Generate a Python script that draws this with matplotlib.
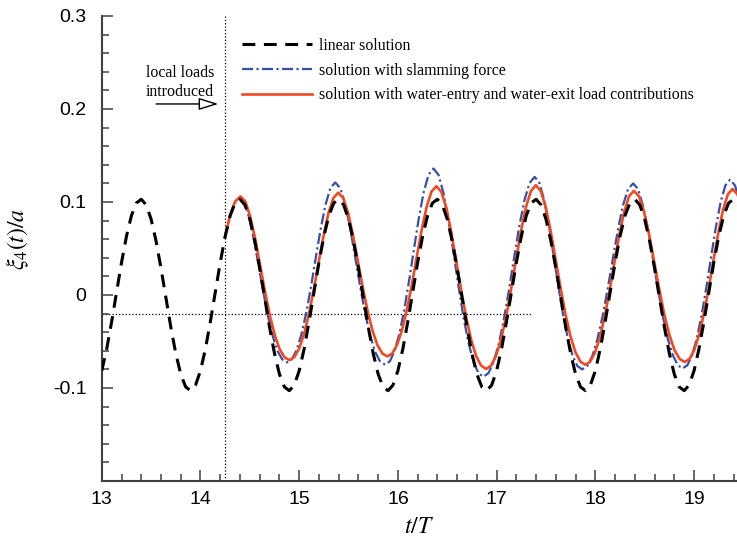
import numpy as np
import matplotlib
matplotlib.use('Agg')
import matplotlib.pyplot as plt
from matplotlib.ticker import FixedLocator, MultipleLocator

plt.rcParams['font.family'] = 'Liberation Sans'
plt.rcParams['mathtext.fontset'] = 'stix'
plt.rcParams['axes.unicode_minus'] = False

# roll response xi_4/a versus t/T
t_load = 14.25          # local loads switched on here
mean_level = -0.02      # dotted reference level
mean_level_end = 17.35

# linear solution, sampled every 0.05 T
lin_t = np.linspace(13.0, 19.45, 130)
lin_xi = [
    -0.0814, -0.0579, -0.0287, 0.0032, 0.0349, 0.0631, 0.0852, 0.0989, 0.1029, 0.0969,
    0.0814, 0.0579, 0.0287, -0.0032, -0.0349, -0.0631, -0.0852, -0.0989, -0.1029, -0.0969,
    -0.0814, -0.0579, -0.0287, 0.0032, 0.0349, 0.0631, 0.0852, 0.0989, 0.1029, 0.0969,
    0.0814, 0.0579, 0.0287, -0.0032, -0.0349, -0.0631, -0.0852, -0.0989, -0.1029, -0.0969,
    -0.0814, -0.0579, -0.0287, 0.0032, 0.0349, 0.0631, 0.0852, 0.0989, 0.1029, 0.0969,
    0.0814, 0.0579, 0.0287, -0.0032, -0.0349, -0.0631, -0.0852, -0.0989, -0.1029, -0.0969,
    -0.0814, -0.0579, -0.0287, 0.0032, 0.0349, 0.0631, 0.0852, 0.0989, 0.1029, 0.0969,
    0.0814, 0.0579, 0.0287, -0.0032, -0.0349, -0.0631, -0.0852, -0.0989, -0.1029, -0.0969,
    -0.0814, -0.0579, -0.0287, 0.0032, 0.0349, 0.0631, 0.0852, 0.0989, 0.1029, 0.0969,
    0.0814, 0.0579, 0.0287, -0.0032, -0.0349, -0.0631, -0.0852, -0.0989, -0.1029, -0.0969,
    -0.0814, -0.0579, -0.0287, 0.0032, 0.0349, 0.0631, 0.0852, 0.0989, 0.1029, 0.0969,
    0.0814, 0.0579, 0.0287, -0.0032, -0.0349, -0.0631, -0.0852, -0.0989, -0.1029, -0.0969,
    -0.0814, -0.0579, -0.0287, 0.0032, 0.0349, 0.0631, 0.0852, 0.0989, 0.1029, 0.0969,
]

# solution with slamming force
slam_t = [
    14.25, 14.30, 14.35, 14.400,
    14.448, 14.496, 14.543, 14.591, 14.639, 14.687, 14.735, 14.782, 14.830, 14.878,
    14.927, 14.975, 15.024, 15.073, 15.122, 15.170, 15.219, 15.268, 15.316, 15.365,
    15.416, 15.466, 15.517, 15.567, 15.618, 15.668, 15.719, 15.769, 15.820, 15.870,
    15.919, 15.968, 16.017, 16.066, 16.115, 16.164, 16.213, 16.262, 16.311, 16.360,
    16.411, 16.461, 16.512, 16.562, 16.613, 16.663, 16.714, 16.764, 16.815, 16.865,
    16.917, 16.969, 17.021, 17.073, 17.125, 17.177, 17.229, 17.281, 17.333, 17.385,
    17.433, 17.481, 17.529, 17.577, 17.625, 17.673, 17.721, 17.769, 17.817, 17.865,
    17.917, 17.969, 18.020, 18.072, 18.124, 18.176, 18.228, 18.279, 18.331, 18.383,
    18.433, 18.483, 18.534, 18.584, 18.634, 18.684, 18.734, 18.785, 18.835, 18.885,
    18.933, 18.981, 19.029, 19.077, 19.125, 19.173, 19.221, 19.269, 19.317, 19.365,
    19.415, 19.465,
]
slam_xi = [
    0.0630, 0.0855, 0.0995, 0.1040,
    0.0983, 0.0823, 0.0585, 0.0304, 0.0018, -0.0242, -0.0453, -0.0605, -0.0695, -0.0725,
    -0.0691, -0.0589, -0.0418, -0.0183, 0.0103, 0.0415, 0.0720, 0.0977, 0.1149, 0.1210,
    0.1149, 0.0974, 0.0714, 0.0406, 0.0090, -0.0199, -0.0438, -0.0611, -0.0716, -0.0750,
    -0.0712, -0.0597, -0.0407, -0.0148, 0.0165, 0.0504, 0.0834, 0.1110, 0.1295, 0.1360,
    0.1292, 0.1098, 0.0807, 0.0460, 0.0100, -0.0233, -0.0510, -0.0715, -0.0839, -0.0880,
    -0.0840, -0.0723, -0.0529, -0.0264, 0.0055, 0.0401, 0.0735, 0.1016, 0.1204, 0.1270,
    0.1206, 0.1024, 0.0752, 0.0428, 0.0095, -0.0211, -0.0465, -0.0651, -0.0763, -0.0800,
    -0.0765, -0.0657, -0.0479, -0.0236, 0.0060, 0.0382, 0.0696, 0.0961, 0.1138, 0.1200,
    0.1138, 0.0957, 0.0698, 0.0386, 0.0065, -0.0229, -0.0472, -0.0648, -0.0755, -0.0790,
    -0.0754, -0.0645, -0.0463, -0.0215, 0.0085, 0.0412, 0.0730, 0.0998, 0.1178, 0.1240,
    0.1177, 0.0997,
]

# solution with water-entry and water-exit loads
ee_t = [
    14.25, 14.30, 14.35, 14.405,
    14.455, 14.504, 14.554, 14.603, 14.653, 14.702, 14.752, 14.801, 14.851, 14.900,
    14.950, 14.999, 15.049, 15.098, 15.148, 15.197, 15.247, 15.296, 15.346, 15.395,
    15.445, 15.495, 15.544, 15.594, 15.644, 15.694, 15.744, 15.793, 15.843, 15.893,
    15.943, 15.992, 16.042, 16.092, 16.142, 16.191, 16.241, 16.291, 16.340, 16.390,
    16.440, 16.491, 16.541, 16.591, 16.642, 16.692, 16.742, 16.792, 16.843, 16.893,
    16.943, 16.994, 17.044, 17.095, 17.145, 17.195, 17.246, 17.296, 17.347, 17.397,
    17.447, 17.497, 17.547, 17.597, 17.648, 17.698, 17.748, 17.798, 17.848, 17.898,
    17.947, 17.996, 18.046, 18.095, 18.144, 18.193, 18.242, 18.292, 18.341, 18.390,
    18.442, 18.493, 18.545, 18.596, 18.648, 18.699, 18.751, 18.802, 18.854, 18.905,
    18.954, 19.002, 19.051, 19.099, 19.148, 19.196, 19.245, 19.293, 19.342, 19.390,
    19.440, 19.490,
]
ee_xi = [
    0.0630, 0.0860, 0.1005, 0.1060,
    0.1004, 0.0844, 0.0606, 0.0325, 0.0040, -0.0219, -0.0429, -0.0580, -0.0670, -0.0700,
    -0.0669, -0.0577, -0.0421, -0.0205, 0.0060, 0.0352, 0.0637, 0.0880, 0.1043, 0.1100,
    0.1044, 0.0884, 0.0646, 0.0365, 0.0080, -0.0179, -0.0389, -0.0540, -0.0630, -0.0660,
    -0.0629, -0.0534, -0.0374, -0.0154, 0.0115, 0.0411, 0.0701, 0.0947, 0.1112, 0.1170,
    0.1109, 0.0934, 0.0673, 0.0365, 0.0048, -0.0243, -0.0482, -0.0656, -0.0760, -0.0795,
    -0.0760, -0.0655, -0.0480, -0.0239, 0.0053, 0.0371, 0.0681, 0.0943, 0.1118, 0.1180,
    0.1119, 0.0947, 0.0691, 0.0387, 0.0075, -0.0210, -0.0444, -0.0614, -0.0716, -0.0750,
    -0.0718, -0.0620, -0.0456, -0.0231, 0.0045, 0.0347, 0.0643, 0.0893, 0.1061, 0.1120,
    0.1062, 0.0896, 0.0649, 0.0358, 0.0060, -0.0211, -0.0432, -0.0593, -0.0688, -0.0720,
    -0.0688, -0.0591, -0.0428, -0.0204, 0.0070, 0.0371, 0.0665, 0.0914, 0.1081, 0.1140,
    0.1081, 0.0914,
]

x_ticks = [13, 14, 15, 16, 17, 18, 19]
y_ticks = [-0.2, -0.1, 0.0, 0.1, 0.2, 0.3]
y_tick_labels = ['', '-0.1', '0', '0.1', '0.2', '0.3']

labels = ['linear solution',
          'solution with slamming force',
          'solution with water-entry and water-exit load contributions']

axis_grey = '#404040'
serif = 'Liberation Serif'

fig = plt.figure(figsize=(7.37, 5.4), dpi=100)
ax = fig.add_axes([0.1381, 0.1093, 0.8619, 0.8611])

# reference lines
ax.axvline(t_load, color='black', lw=0.9, ls=':', zorder=1)
ax.hlines(mean_level, 13.0, mean_level_end, color='black', lw=0.9, ls=':', zorder=1)

l_slam, = ax.plot(slam_t, slam_xi, color='#3451a5', lw=1.6,
                  ls=(0, (5, 1.5, 1, 1.5)), zorder=2, label=labels[1])
l_ee, = ax.plot(ee_t, ee_xi, color='#ef4a24', lw=1.9, zorder=3, label=labels[2])
l_lin, = ax.plot(lin_t, lin_xi, color='black', lw=2.2,
                 ls=(0, (4.2, 2.8)), zorder=4, label=labels[0])

ax.set_xlim(13, 19.435)
ax.set_ylim(-0.2, 0.3)

ax.xaxis.set_major_locator(FixedLocator(x_ticks))
ax.xaxis.set_minor_locator(MultipleLocator(0.2))
ax.yaxis.set_major_locator(FixedLocator(y_ticks))
ax.yaxis.set_minor_locator(MultipleLocator(0.02))
ax.set_yticklabels(y_tick_labels)

for side in ['top', 'right']:
    ax.spines[side].set_visible(False)
for side in ['left', 'bottom']:
    ax.spines[side].set_color(axis_grey)
    ax.spines[side].set_linewidth(1.5)

ax.tick_params(which='both', direction='in', color=axis_grey, width=1.1,
               top=False, right=False, labelsize=14)
ax.tick_params(which='major', length=8)
ax.tick_params(which='minor', length=5)
ax.tick_params(axis='x', pad=7)
ax.tick_params(axis='y', pad=11)

ax.set_xlabel(r'$t/T$', fontsize=17)
ax.xaxis.set_label_coords(0.5, -0.075)
ax.set_ylabel(r'$\xi_4(t)/a$', fontsize=17)
ax.yaxis.set_label_coords(-0.112, 0.52)

ax.legend(handles=[l_lin, l_slam, l_ee], loc='upper left',
          bbox_to_anchor=(0.2207, 0.953), frameon=False,
          prop={'family': serif, 'size': 11.4}, handlelength=4.4,
          handletextpad=0.45, labelspacing=0.55, borderpad=0, borderaxespad=0)

# note on when the local loads start acting
ax.text(13.79, 0.229, 'local loads\nintroduced', ha='center', va='center',
        family=serif, fontsize=11.4, linespacing=1.25)
ax.annotate('', xy=(14.18, 0.2054), xytext=(13.55, 0.2054),
            arrowprops=dict(arrowstyle='-|>,head_length=0.8,head_width=0.25',
                            mutation_scale=15, fc='white', ec='black', lw=1.0,
                            shrinkA=0, shrinkB=0))

fig.savefig('out.png', dpi=100)
